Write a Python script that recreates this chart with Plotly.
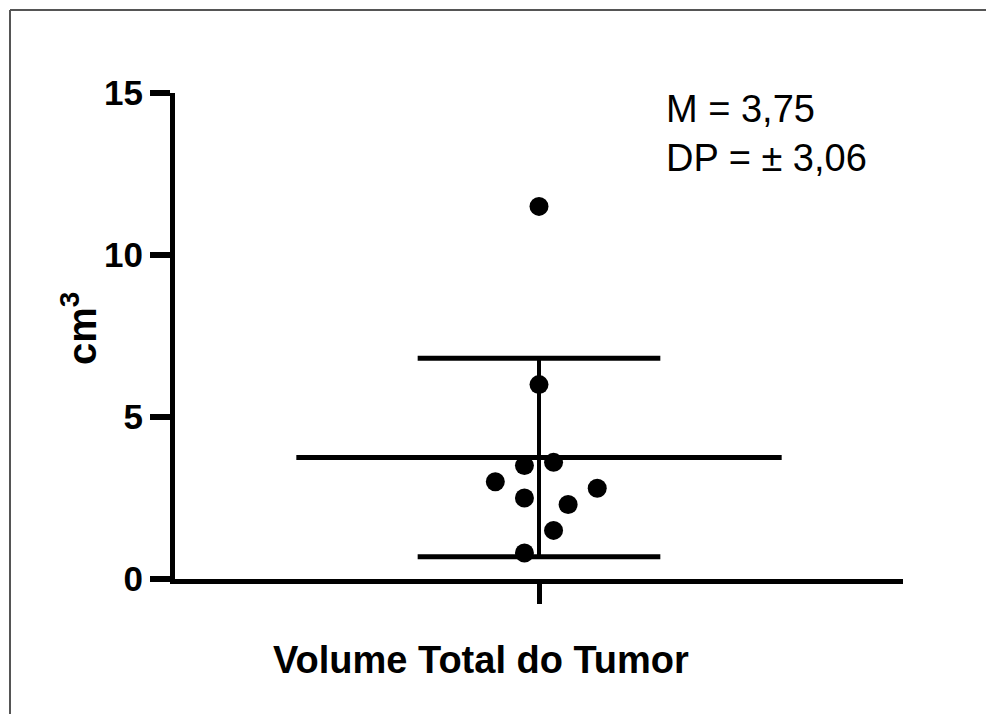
import plotly.graph_objects as go

# Tumour volume per patient (cm3) and the horizontal spread of each dot in the column
volumes = [11.5, 6.0, 3.5, 3.6, 3.0, 2.5, 2.8, 2.3, 1.5, 0.8]
x_offset = [0.0, 0.0, -0.04, 0.04, -0.12, -0.04, 0.16, 0.08, 0.04, -0.04]

# Summary statistics shown on the chart
MEAN = 3.75
SD = 3.06

category = "Volume Total do Tumor"
y_ticks = [0, 5, 10, 15]

FONT = "Liberation Sans, Arial, sans-serif"
W, H = 986, 714
L, R, T, B = 175, 83, 93, 135
pw, ph = W - L - R, H - T - B


def px_x(p):
    return (p - L) / pw


def px_y(p):
    return (H - B - p) / ph


def fmt(v):
    return f"{v:.2f}".replace(".", ",")


fig = go.Figure()

line_style = dict(color="black", width=5)

# mean bar
fig.add_trace(go.Scatter(x=[-2 / 3, 2 / 3], y=[MEAN, MEAN], mode="lines",
                         line=line_style, hoverinfo="skip"))
# standard deviation whiskers
for y in (MEAN - SD, MEAN + SD):
    fig.add_trace(go.Scatter(x=[-1 / 3, 1 / 3], y=[y, y], mode="lines",
                             line=line_style, hoverinfo="skip"))
fig.add_trace(go.Scatter(x=[0, 0], y=[MEAN - SD, MEAN + SD], mode="lines",
                         line=dict(color="black", width=4), hoverinfo="skip"))

# individual values
fig.add_trace(go.Scatter(x=x_offset, y=volumes, mode="markers",
                         marker=dict(color="black", size=19)))

fig.update_layout(
    width=W, height=H,
    margin=dict(l=L, r=R, t=T, b=B),
    paper_bgcolor="white", plot_bgcolor="white",
    showlegend=False,
    font=dict(family=FONT, color="black"),
    xaxis=dict(range=[-1, 1], tickvals=[0], showticklabels=False,
               ticks="outside", ticklen=20, tickwidth=5, tickcolor="black",
               showline=True, linewidth=5, linecolor="black",
               showgrid=False, zeroline=False, fixedrange=True),
    yaxis=dict(range=[0, 15], tickvals=y_ticks, ticktext=[str(t) for t in y_ticks],
               ticks="outside", ticklen=20, tickwidth=6, tickcolor="black",
               tickfont=dict(family=FONT, size=35, weight="bold", color="black"),
               showline=True, linewidth=5, linecolor="black",
               showgrid=False, zeroline=False, fixedrange=True),
)

# frame around the figure: only its top and left edges fall inside the page
frame = dict(color="#555555", width=2)
fig.add_shape(type="line", xref="paper", yref="paper",
              x0=px_x(10), x1=px_x(W), y0=px_y(10), y1=px_y(10),
              line=frame, layer="below")
fig.add_shape(type="line", xref="paper", yref="paper",
              x0=px_x(10), x1=px_x(10), y0=px_y(10), y1=px_y(H),
              line=frame, layer="below")

fig.add_annotation(x=px_x(481), y=px_y(660), xref="paper", yref="paper",
                   text=category, showarrow=False,
                   xanchor="center", yanchor="middle",
                   font=dict(family=FONT, size=38, weight="bold", color="black"))

fig.add_annotation(x=px_x(79), y=px_y(329), xref="paper", yref="paper",
                   text="cm<sup>3</sup>", showarrow=False, textangle=-90,
                   xanchor="center", yanchor="middle",
                   font=dict(family=FONT, size=40, weight="bold", color="black"))

fig.add_annotation(x=px_x(664), y=px_y(86), xref="paper", yref="paper",
                   text=f"M = {fmt(MEAN)}<br>DP = ± {fmt(SD)}", showarrow=False,
                   xanchor="left", yanchor="top", align="left",
                   font=dict(family=FONT, size=38, color="black"))

fig.write_html("out.html", config={"displayModeBar": False})
